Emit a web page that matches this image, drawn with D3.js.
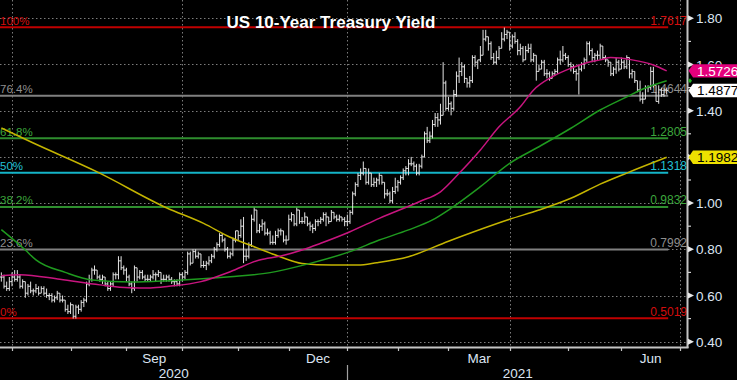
<!DOCTYPE html>
<html><head><meta charset="utf-8">
<script src="https://cdn.jsdelivr.net/npm/d3@7"></script>
<style>
html,body{margin:0;padding:0;background:#000;}
svg{display:block;}
text{font-family:"Liberation Sans",Arial,sans-serif;}
</style></head><body>
<svg id="c" width="737" height="380"></svg>
<script>
// ---------------- DATA ----------------
const title = "US 10-Year Treasury Yield";
const months = ["2020-06","2020-07","2020-08","2020-09","2020-10","2020-11","2020-12","2021-01","2021-02","2021-03","2021-04","2021-05","2021-06"];
const tradingDays = [
 [25,26,29,30],
 [1,2,6,7,8,9,10,13,14,15,16,17,20,21,22,23,24,27,28,29,30,31],
 [3,4,5,6,7,10,11,12,13,14,17,18,19,20,21,24,25,26,27,28,31],
 [1,2,3,4,8,9,10,11,14,15,16,17,18,21,22,23,24,25,28,29,30],
 [1,2,5,6,7,8,9,13,14,15,16,19,20,21,22,23,26,27,28,29,30],
 [2,3,4,5,6,9,10,12,13,16,17,18,19,20,23,24,25,27,30],
 [1,2,3,4,7,8,9,10,11,14,15,16,17,18,21,22,23,24,28,29,30,31],
 [4,5,6,7,8,11,12,13,14,15,19,20,21,22,25,26,27,28,29],
 [1,2,3,4,5,8,9,10,11,12,16,17,18,19,22,23,24,25,26],
 [1,2,3,4,5,8,9,10,11,12,15,16,17,18,19,22,23,24,25,26,29,30,31],
 [1,2,5,6,7,8,9,12,13,14,15,16,19,20,21,22,23,26,27,28,29,30],
 [3,4,5,6,7,10,11,12,13,14,17,18,19,20,21,24,25,26,27,28],
 [1,2,3,4,7,8,9,10,11,14,15,16,17,18,21,22,23,24]
];
const openVals = [
 [.68,.68,.64,.63],
 [.66,.68,.67,.68,.64,.66,.61,.64,.62,.62,.63,.61,.63,.61,.60,.60,.58,.59,.61,.58,.58,.54],
 [.53,.56,.51,.55,.54,.57,.58,.65,.67,.71,.71,.68,.67,.68,.65,.63,.65,.69,.69,.75,.72],
 [.71,.68,.65,.63,.72,.68,.70,.68,.67,.67,.68,.69,.69,.70,.67,.67,.68,.67,.66,.66,.65],
 [.69,.68,.70,.78,.74,.79,.77,.78,.73,.73,.74,.75,.77,.80,.82,.86,.84,.80,.77,.78,.84],
 [.88,.86,.90,.77,.77,.82,.93,.97,.88,.90,.91,.87,.87,.83,.83,.86,.88,.88,.84],
 [.84,.93,.95,.91,.97,.92,.92,.94,.91,.90,.89,.92,.92,.93,.95,.94,.92,.96,.94,.93,.94,.93],
 [.92,.92,.96,1.04,1.08,1.12,1.13,1.15,1.09,1.13,1.08,1.09,1.10,1.12,1.09,1.04,1.04,1.01,1.05],
 [1.07,1.09,1.11,1.14,1.15,1.17,1.17,1.16,1.13,1.16,1.20,1.30,1.27,1.29,1.34,1.37,1.36,1.38,1.52],
 [1.41,1.43,1.41,1.47,1.55,1.57,1.59,1.54,1.52,1.53,1.63,1.61,1.62,1.64,1.71,1.72,1.69,1.63,1.61,1.63,1.67,1.71,1.73],
 [1.74,1.68,1.72,1.70,1.66,1.67,1.62,1.66,1.67,1.62,1.64,1.57,1.58,1.61,1.56,1.56,1.54,1.56,1.57,1.62,1.62,1.64],
 [1.63,1.60,1.59,1.57,1.56,1.58,1.60,1.62,1.69,1.66,1.63,1.64,1.64,1.68,1.63,1.62,1.61,1.56,1.58,1.61],
 [1.58,1.61,1.59,1.63,1.56,1.57,1.53,1.49,1.45,1.45,1.50,1.50,1.57,1.51,1.44,1.49,1.47,1.49]
];
const highVals = [
 [.70,.69,.66,.68],
 [.70,.71,.71,.69,.67,.66,.65,.66,.63,.65,.64,.64,.64,.63,.61,.61,.60,.62,.61,.60,.58,.56],
 [.57,.56,.56,.56,.58,.59,.66,.69,.72,.73,.71,.69,.69,.68,.66,.66,.70,.70,.77,.77,.73],
 [.72,.69,.66,.73,.72,.71,.71,.69,.69,.69,.71,.70,.71,.70,.69,.69,.69,.68,.67,.67,.70],
 [.70,.71,.79,.79,.80,.80,.79,.78,.75,.75,.77,.78,.81,.83,.87,.87,.85,.81,.79,.85,.88],
 [.88,.93,.94,.80,.83,.95,.98,.97,.91,.93,.92,.89,.88,.86,.88,.89,.89,.88,.86],
 [.95,.96,.95,.98,.97,.94,.96,.94,.92,.91,.93,.93,.94,.96,.96,.94,.97,.96,.95,.95,.94,.94],
 [.95,.97,1.05,1.09,1.13,1.15,1.18,1.15,1.15,1.13,1.11,1.11,1.13,1.12,1.09,1.06,1.05,1.07,1.11],
 [1.10,1.12,1.15,1.16,1.19,1.20,1.18,1.17,1.17,1.21,1.31,1.33,1.31,1.36,1.39,1.39,1.43,1.61,1.53],
 [1.46,1.44,1.49,1.57,1.63,1.61,1.60,1.54,1.55,1.64,1.64,1.62,1.68,1.75,1.75,1.72,1.70,1.65,1.66,1.68,1.74,1.76,1.75],
 [1.74,1.73,1.74,1.71,1.69,1.68,1.68,1.69,1.69,1.65,1.64,1.60,1.62,1.62,1.58,1.57,1.57,1.58,1.63,1.66,1.68,1.65],
 [1.64,1.61,1.60,1.58,1.60,1.61,1.63,1.70,1.70,1.67,1.65,1.66,1.69,1.68,1.64,1.62,1.61,1.59,1.63,1.62],
 [1.63,1.62,1.64,1.63,1.58,1.57,1.53,1.53,1.48,1.51,1.51,1.59,1.59,1.51,1.51,1.50,1.50,1.50]
];
const lowVals = [
 [.66,.63,.62,.62],
 [.64,.66,.66,.63,.63,.59,.60,.61,.60,.61,.60,.61,.60,.59,.58,.57,.57,.58,.57,.57,.53,.52],
 [.52,.50,.50,.52,.53,.55,.57,.64,.66,.69,.67,.66,.65,.64,.62,.62,.64,.67,.67,.71,.69],
 [.66,.64,.61,.62,.66,.67,.67,.66,.66,.66,.67,.66,.68,.65,.66,.66,.66,.65,.64,.64,.64],
 [.66,.67,.69,.73,.74,.76,.76,.72,.72,.71,.73,.74,.76,.79,.81,.83,.79,.76,.76,.77,.83],
 [.84,.85,.74,.75,.76,.81,.92,.87,.87,.88,.86,.86,.82,.82,.82,.85,.86,.83,.82],
 [.84,.92,.90,.90,.91,.91,.91,.90,.88,.87,.88,.90,.91,.92,.90,.91,.92,.93,.92,.92,.92,.90],
 [.90,.91,.95,1.03,1.07,1.10,1.12,1.08,1.08,1.07,1.07,1.07,1.08,1.08,1.02,1.03,1.00,1.00,1.04],
 [1.05,1.08,1.10,1.12,1.12,1.16,1.14,1.12,1.12,1.15,1.20,1.26,1.26,1.28,1.33,1.33,1.34,1.38,1.40],
 [1.40,1.38,1.40,1.46,1.52,1.55,1.52,1.50,1.50,1.52,1.59,1.58,1.61,1.64,1.70,1.66,1.62,1.60,1.60,1.62,1.67,1.70,1.71],
 [1.66,1.67,1.69,1.64,1.64,1.61,1.62,1.65,1.61,1.61,1.53,1.57,1.58,1.55,1.54,1.53,1.54,1.55,1.56,1.60,1.61,1.62],
 [1.59,1.57,1.56,1.53,1.47,1.57,1.58,1.61,1.64,1.61,1.61,1.62,1.62,1.62,1.61,1.59,1.55,1.55,1.56,1.57],
 [1.58,1.58,1.58,1.54,1.54,1.52,1.48,1.44,1.43,1.45,1.48,1.49,1.50,1.44,1.43,1.46,1.46,1.47]
];
const closeVals = [
 [.68,.64,.63,.66],
 [.68,.67,.68,.64,.66,.61,.64,.62,.62,.63,.61,.63,.61,.60,.60,.58,.59,.61,.58,.58,.54,.53],
 [.56,.51,.55,.54,.57,.58,.65,.67,.71,.71,.68,.67,.68,.65,.63,.65,.69,.69,.75,.72,.71],
 [.68,.65,.63,.72,.68,.70,.68,.67,.67,.68,.69,.69,.70,.67,.67,.68,.67,.66,.66,.65,.69],
 [.68,.70,.78,.74,.79,.77,.78,.73,.73,.74,.75,.77,.80,.82,.86,.84,.80,.77,.78,.84,.88],
 [.86,.90,.77,.77,.82,.93,.97,.88,.90,.91,.87,.87,.83,.83,.86,.88,.88,.84,.84],
 [.93,.95,.91,.97,.92,.92,.94,.91,.90,.89,.92,.92,.93,.95,.94,.92,.96,.94,.93,.94,.93,.92],
 [.92,.96,1.04,1.08,1.12,1.13,1.15,1.09,1.13,1.08,1.09,1.10,1.12,1.09,1.04,1.04,1.01,1.05,1.07],
 [1.09,1.11,1.14,1.15,1.17,1.17,1.16,1.13,1.16,1.20,1.30,1.27,1.29,1.34,1.37,1.36,1.38,1.52,1.41],
 [1.43,1.41,1.47,1.55,1.57,1.59,1.54,1.52,1.53,1.63,1.61,1.62,1.64,1.71,1.72,1.69,1.63,1.61,1.63,1.67,1.71,1.73,1.74],
 [1.68,1.72,1.70,1.66,1.67,1.62,1.66,1.67,1.62,1.64,1.57,1.58,1.61,1.56,1.56,1.54,1.56,1.57,1.62,1.62,1.64,1.63],
 [1.60,1.59,1.57,1.56,1.58,1.60,1.62,1.69,1.66,1.63,1.64,1.64,1.68,1.63,1.62,1.61,1.56,1.58,1.61,1.58],
 [1.61,1.59,1.63,1.56,1.57,1.53,1.49,1.45,1.45,1.50,1.50,1.57,1.51,1.44,1.49,1.47,1.49,1.4877]
];
// moving averages (sample dates / values)
const ma50Dates = ["2020-06-25","2020-07-07","2020-07-28","2020-08-18","2020-09-02","2020-09-15","2020-09-24","2020-10-13","2020-10-28","2020-11-13","2020-11-25","2020-12-08","2020-12-17","2021-01-05","2021-01-21","2021-02-11","2021-02-24","2021-03-05","2021-03-17","2021-03-26","2021-04-07","2021-04-14","2021-04-23","2021-05-04","2021-05-12","2021-05-19","2021-05-25","2021-06-07","2021-06-17","2021-06-24"];
const ma50Values = [0.686,0.690,0.670,0.646,0.634,0.633,0.640,0.660,0.703,0.754,0.771,0.797,0.826,0.876,0.934,1.006,1.049,1.129,1.230,1.330,1.417,1.490,1.547,1.584,1.608,1.620,1.630,1.620,1.598,1.5726];
const ma100Dates = ["2020-06-25","2020-07-09","2020-07-15","2020-07-30","2020-08-13","2020-09-03","2020-09-24","2020-10-28","2020-11-19","2020-12-11","2021-01-05","2021-01-21","2021-02-05","2021-02-19","2021-03-01","2021-03-17","2021-04-01","2021-04-16","2021-05-04","2021-05-19","2021-06-03","2021-06-14","2021-06-24"];
const ma100Values = [0.885,0.797,0.754,0.700,0.667,0.658,0.664,0.681,0.699,0.739,0.790,0.840,0.884,0.927,0.970,1.071,1.172,1.244,1.324,1.403,1.460,1.498,1.530];
const ma200Dates = ["2020-06-25","2020-07-14","2020-08-17","2020-09-23","2020-10-14","2020-10-28","2020-11-10","2020-11-24","2020-12-08","2020-12-23","2021-01-08","2021-01-20","2021-02-05","2021-03-01","2021-04-01","2021-04-16","2021-05-04","2021-05-19","2021-06-03","2021-06-24"];
const ma200Values = [1.325,1.260,1.135,0.980,0.912,0.852,0.811,0.771,0.739,0.732,0.732,0.742,0.768,0.835,0.930,0.970,1.021,1.082,1.130,1.1982];
// Fibonacci retracement levels
const fibPct = ["100%","76.4%","61.8%","50%","38.2%","23.6%","0%"];
const fibValues = [1.7617,1.4644,1.2805,1.1318,0.9832,0.7992,0.5019];
// axis ticks (1.20 sits fully under the 1.1982 tag in the reference, so it has no visible label)
const yTickValues = [0.40,0.60,0.80,1.00,1.20,1.40,1.60,1.80];
const yLabelValues = [0.40,0.60,0.80,1.00,1.40,1.60,1.80];
const yMinorValues = [0.50,0.70,0.90,1.10,1.30,1.50,1.70];
const tickMonths = ["2020-07","2020-08","2020-09","2020-10","2020-11","2020-12","2021-01","2021-02","2021-03","2021-04","2021-05","2021-06","2021-07"];
const gridMonths = ["2020-07","2020-10","2021-01","2021-04","2021-07"];
const labelMonths = ["2020-09","2020-12","2021-03","2021-06"];
const monthLabels = ["Sep","Dec","Mar","Jun"];
const yearLabels = ["2020","2021"];
const lastLabels = {ma50: 1.5726, close: 1.4877, ma200: 1.1982, ma100: 1.530};

// ---------------- BUILD ----------------
const bars = [];
months.forEach((m, mi) => {
  const n = tradingDays[mi].length;
  [openVals, highVals, lowVals, closeVals].forEach((arr, k) => {
    if (arr[mi].length !== n) throw new Error("length mismatch month " + m + " array " + k + ": " + arr[mi].length + " vs " + n);
  });
  tradingDays[mi].forEach((d, j) => {
    bars.push({date: m + "-" + String(d).padStart(2, "0"), o: openVals[mi][j], h: highVals[mi][j], l: lowVals[mi][j], c: closeVals[mi][j]});
  });
});
const idxOf = new Map(bars.map((b, i) => [b.date, i]));
const parse = d3.timeParse("%Y-%m-%d");
function monthIndex(ym) {
  const target = parse(ym + "-01");
  for (let i = 0; i < bars.length; i++) if (parse(bars[i].date) >= target) return i;
  let i = bars.length - 1, d = parse(bars[i].date);
  while (d < target) { d = d3.timeDay.offset(d, 1); const wd = d.getDay(); if (wd !== 0 && wd !== 6) i++; }
  return i;
}

const svg = d3.select("#c");
const W = 737, H = 380, plotR = 687, plotB = 347;
const x = d3.scaleLinear().domain([monthIndex("2020-07"), monthIndex("2021-07")]).range([12, 680]);
const y = d3.scaleLinear().domain([0.40, 1.80]).range([341.7, 18.3]);

svg.append("rect").attr("width", W).attr("height", H).attr("fill", "#000");

// grid
const grid = svg.append("g").attr("stroke", "#7c7c7c").attr("stroke-dasharray", "1.5,2.5").attr("stroke-width", 1);
yTickValues.forEach(v => grid.append("line").attr("x1", 0).attr("x2", plotR).attr("y1", Math.round(y(v)) + 0.5).attr("y2", Math.round(y(v)) + 0.5));
gridMonths.forEach(m => { const xx = Math.round(x(monthIndex(m))) + 0.5; grid.append("line").attr("x1", xx).attr("x2", xx).attr("y1", 0).attr("y2", plotB); });

// fib lines
const fibColors = ["#c00000","#808080","#2e8e2e","#14b4c8","#2e8e2e","#808080","#c00000"];
const fibText = ["#d40d0d","#8e8e8e","#3ca63c","#22c0d6","#3ca63c","#8e8e8e","#d40d0d"];
const fibEnd = x(bars.length - 1) + 1.5;
const fibG = svg.append("g");
fibValues.forEach((v, i) => {
  const yy = y(v);
  fibG.append("line").attr("x1", 0).attr("x2", fibEnd).attr("y1", yy).attr("y2", yy).attr("stroke", fibColors[i]).attr("stroke-width", 2);
  fibG.append("text").attr("x", 0).attr("y", yy - 2.5).attr("font-size", 11.5).attr("fill", fibText[i]).text(fibPct[i]);
  fibG.append("text").attr("x", plotR).attr("y", yy - 2.5).attr("text-anchor", "end").attr("font-size", 12).attr("fill", fibText[i]).text(d3.format(".4f")(v));
});

// OHLC bars
let p = "";
bars.forEach((b, i) => {
  const xx = x(i);
  p += `M${xx},${y(b.h)}V${y(b.l)}M${xx - 1.4},${y(b.o)}H${xx}M${xx},${y(b.c)}H${xx + 1.4}`;
});
svg.append("path").attr("d", p).attr("stroke", "#e4e4e4").attr("stroke-width", 1).attr("fill", "none");

// moving averages
function maLine(dates, vals, color) {
  const pts = dates.map((d, i) => [x(idxOf.get(d)), y(vals[i])]);
  svg.append("path").attr("d", d3.line().curve(d3.curveMonotoneX)(pts)).attr("fill", "none").attr("stroke", color).attr("stroke-width", 1.5);
}
maLine(ma200Dates, ma200Values, "#c4b400");
maLine(ma100Dates, ma100Values, "#1f9a1f");
maLine(ma50Dates, ma50Values, "#c8157f");

// axes lines
svg.append("line").attr("x1", plotR + 0.5).attr("x2", plotR + 0.5).attr("y1", 0).attr("y2", plotB + 1).attr("stroke", "#c4c4c4").attr("stroke-width", 2);
svg.append("line").attr("x1", 0).attr("x2", plotR + 1.5).attr("y1", plotB + 0.5).attr("y2", plotB + 0.5).attr("stroke", "#c4c4c4").attr("stroke-width", 2);

// right axis ticks & labels
const labCol = "#dde5f2";
yMinorValues.forEach(v => svg.append("line").attr("x1", plotR + 1).attr("x2", plotR + 4).attr("y1", y(v)).attr("y2", y(v)).attr("stroke", "#d0d0d0").attr("stroke-width", 1.2));
yTickValues.forEach(v => {
  const yy = y(v);
  svg.append("path").attr("d", `M${plotR + 1},${yy - 3}L${plotR + 7},${yy}L${plotR + 1},${yy + 3}Z`).attr("fill", "#e8e8e8");
});
yLabelValues.forEach(v => {
  svg.append("text").attr("x", 696).attr("y", y(v) + 5).attr("font-size", 13.5).attr("fill", labCol).text(d3.format(".2f")(v));
});

// bottom axis ticks & labels
tickMonths.forEach(m => { const xx = Math.round(x(monthIndex(m))) + 0.5; svg.append("line").attr("x1", xx).attr("x2", xx).attr("y1", plotB + 1).attr("y2", plotB + 4).attr("stroke", "#c4c4c4").attr("stroke-width", 1.2); });
labelMonths.forEach((m, i) => {
  const a = monthIndex(m);
  const nm = d3.timeFormat("%Y-%m")(d3.timeMonth.offset(parse(m + "-01"), 1));
  const b = monthIndex(nm);
  svg.append("text").attr("x", (x(a) + x(b)) / 2).attr("y", 363).attr("text-anchor", "middle").attr("font-size", 13.5).attr("fill", labCol).text(monthLabels[i]);
});
const xJan = Math.round(x(monthIndex("2021-01"))) + 0.5;
svg.append("line").attr("x1", xJan).attr("x2", xJan).attr("y1", 365).attr("y2", 380).attr("stroke", "#a0a0a0").attr("stroke-width", 1.2);
svg.append("text").attr("x", xJan / 2).attr("y", 378).attr("text-anchor", "middle").attr("font-size", 13.5).attr("fill", labCol).text(yearLabels[0]);
svg.append("text").attr("x", (xJan + plotR + 1) / 2).attr("y", 378).attr("text-anchor", "middle").attr("font-size", 13.5).attr("fill", labCol).text(yearLabels[1]);

// last-value tags
function tag(v, fill, txt) {
  const yy = y(v);
  svg.append("path").attr("d", `M${plotR + 1.5},${yy}L${plotR + 6},${yy - 6.7}H${W}V${yy + 6.7}H${plotR + 6}Z`).attr("fill", fill);
  svg.append("text").attr("x", 697).attr("y", yy + 5).attr("font-size", 13.5).attr("fill", txt).text(d3.format(".4f")(v));
}
tag(lastLabels.ma50, "#e4007c", "#ffffff");
tag(lastLabels.close, "#ffffff", "#000000");
tag(lastLabels.ma200, "#eee000", "#000000");
const gy = y(lastLabels.ma100);
svg.append("path").attr("d", `M${plotR + 1},${gy}L${plotR + 3},${gy - 2.5}L${plotR + 5},${gy}L${plotR + 3},${gy + 2.5}Z`).attr("fill", "#22b022");

// title
svg.append("text").attr("x", 331).attr("y", 28).attr("text-anchor", "middle").attr("font-size", 17).attr("font-weight", "bold").attr("fill", "#ffffff").text(title);
</script>
</body></html>
